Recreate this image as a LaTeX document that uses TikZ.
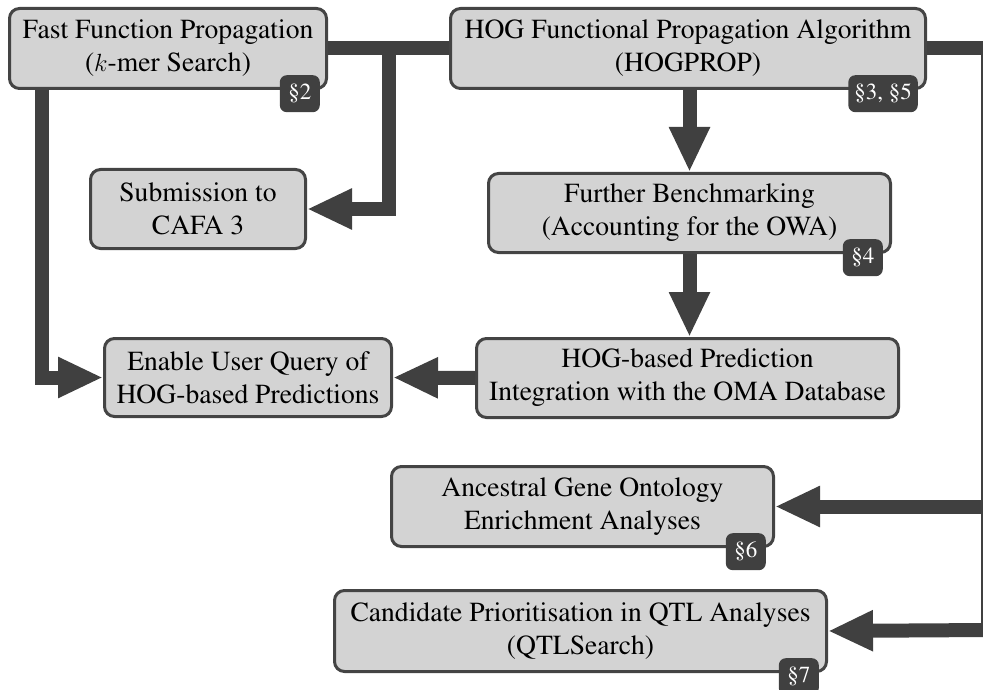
\documentclass[tikz,border=0pt]{standalone}
\usepackage[T1]{fontenc}
\renewcommand{\rmdefault}{ptm}
\usetikzlibrary{arrows.meta,calc}
\definecolor{boxfill}{RGB}{211,211,211}
\definecolor{boxline}{RGB}{68,68,68}
\definecolor{connc}{RGB}{64,64,64}
\tikzset{
  stagebox/.style={draw=boxline, line width=3pt, fill=boxfill, rounded corners=10pt,
    align=center, inner sep=0pt, font=\fontsize{27.6}{33}\selectfont},
  badge/.style={fill=connc, text=white, rounded corners=7pt, inner xsep=6pt, inner ysep=0pt,
    minimum height=37pt, minimum width=40pt, font=\fontsize{23}{25}\selectfont, anchor=north east},
  conn/.style={draw=connc, line width=14pt},
  arr/.style={conn, -{Triangle[length=45pt,width=38pt]}},
}
\begin{document}
\begin{tikzpicture}[x=1pt,y=-1pt]
\useasboundingbox (0,0) rectangle (983,690);
\clip (0,0) rectangle (983,690);
% boxes
\node[stagebox, minimum width=317pt, minimum height=80pt] (ffp) at (168,48.5)
  {Fast Function Propagation\\($k$-mer Search)};
\node[stagebox, minimum width=475pt, minimum height=80pt] (hogprop) at (688,48.5)
  {HOG Functional Propagation Algorithm\\(HOGPROP)};
\node[stagebox, minimum width=215pt, minimum height=79pt] (sub) at (198,209)
  {Submission to\\CAFA 3};
\node[stagebox, minimum width=287pt, minimum height=78pt] (enable) at (248,377.5)
  {Enable User Query of\\HOG-based Predictions};
\node[stagebox, minimum width=402pt, minimum height=79pt] (further) at (689.5,213)
  {Further Benchmarking\\(Accounting for the OWA)};
\node[stagebox, minimum width=422pt, minimum height=79pt] (hogpred) at (687.5,378)
  {HOG-based Prediction\\Integration with the OMA Database};
\node[stagebox, minimum width=382pt, minimum height=80pt] (anc) at (582.5,506.5)
  {Ancestral Gene Ontology\\Enrichment Analyses};
\node[stagebox, minimum width=492pt, minimum height=81pt] (qtl) at (580.5,631)
  {Candidate Prioritisation in QTL Analyses\\(QTLSearch)};
% connectors
\coordinate (j1) at (389,48.5);
\coordinate (r1) at (988,48.5);
\coordinate (r2) at (988,630);
\draw[conn] (ffp.east) -- (hogprop.west);
\draw[arr] (j1) |- (sub.east);
\draw[arr] ([xshift=34pt]ffp.south west) |- (enable.west);
\draw[arr] (hogpred.west) -- (enable.east);
\draw[arr] (hogprop.south -| further.north) -- (further.north);
\draw[arr] (further.south) -- (further.south |- hogpred.north);
\draw[conn] (hogprop.east) -- (r1) -- (r2);
\draw[arr] (r1 |- anc.east) -- (anc.east);
\draw[arr] (r2) -- (qtl.east);
% badges
\node[badge] (b2) at ([xshift=-8pt,yshift=15pt]ffp.south east) {\S2};
\node[badge] (b35) at ([xshift=-9pt,yshift=15pt]hogprop.south east) {\S3, \S5};
\node[badge] (b4) at ([xshift=-9pt,yshift=15pt]further.south east) {\S4};
\node[badge] (b6) at ([xshift=-9pt,yshift=15pt]anc.south east) {\S6};
\node[badge] (b7) at ([xshift=-9pt,yshift=15pt]qtl.south east) {\S7};
\end{tikzpicture}
\end{document}
